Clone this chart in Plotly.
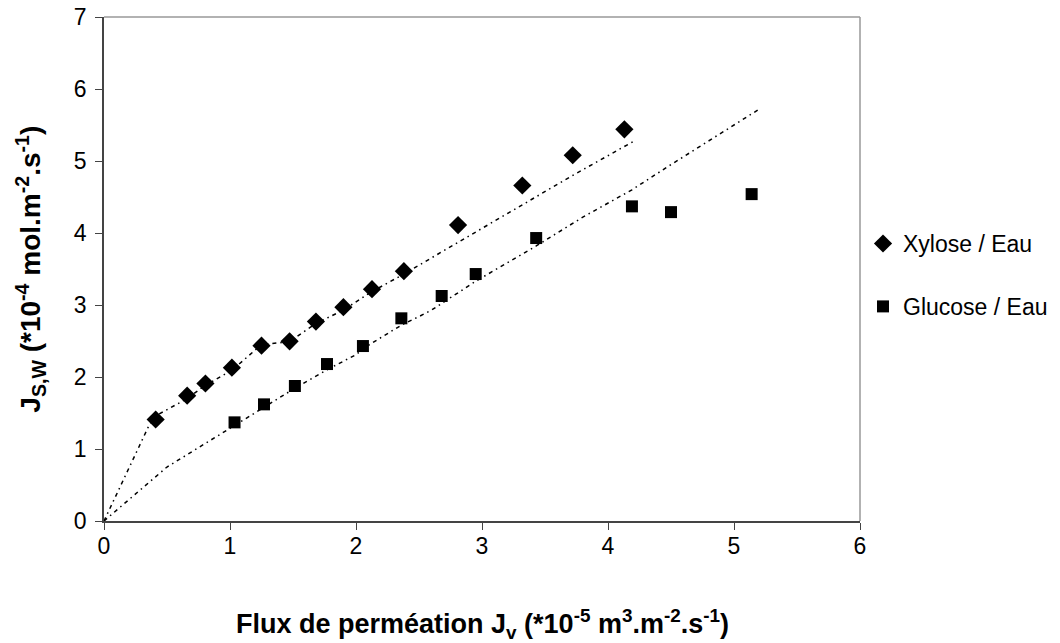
import plotly.graph_objects as go

# Data
xyl_x = [0.41, 0.66, 0.805, 1.015, 1.25, 1.473, 1.682, 1.90, 2.127, 2.38, 2.81, 3.32, 3.72, 4.13]
xyl_y = [1.41, 1.74, 1.91, 2.13, 2.435, 2.495, 2.77, 2.97, 3.22, 3.47, 4.11, 4.66, 5.08, 5.44]

glu_x = [1.036, 1.27, 1.515, 1.77, 2.055, 2.36, 2.68, 2.95, 3.43, 4.19, 4.50, 5.14]
glu_y = [1.37, 1.62, 1.875, 2.18, 2.43, 2.815, 3.125, 3.43, 3.93, 4.37, 4.29, 4.54]

xyl_fit_x = [0, 0.35, 0.40, 0.66, 0.80, 1.02, 1.25, 1.47, 1.68, 1.90, 2.12, 2.38, 2.80, 3.32, 3.72, 4.21]
xyl_fit_y = [0, 1.30, 1.45, 1.70, 1.88, 2.10, 2.45, 2.49, 2.74, 2.93, 3.18, 3.43, 3.86, 4.39, 4.80, 5.28]

glu_fit_x = [0, 0.50, 1.03, 1.27, 1.52, 1.77, 2.00, 2.06, 2.36, 2.50, 2.60, 2.95, 3.43, 3.80, 4.19, 4.50, 5.20]
glu_fit_y = [0, 0.75, 1.32, 1.58, 1.85, 2.10, 2.31, 2.40, 2.72, 2.84, 2.93, 3.33, 3.82, 4.22, 4.60, 4.95, 5.72]

x_ticks = [0, 1, 2, 3, 4, 5, 6]
y_ticks = [0, 1, 2, 3, 4, 5, 6, 7]

x_title = "<b>Flux de perméation J<sub>v</sub> (*10<sup>-5</sup> m<sup>3</sup>.m<sup>-2</sup>.s<sup>-1</sup>)</b>"
y_title = "<b>J<sub>S,W</sub> (*10<sup>-4</sup> mol.m<sup>-2</sup>.s<sup>-1</sup>)</b>"

font = "Liberation Sans, Arial, sans-serif"
dash = "4px,4px,1.5px,4px"

fig = go.Figure()
fig.add_trace(go.Scatter(x=xyl_fit_x, y=xyl_fit_y, mode="lines",
                         line=dict(color="black", width=1.5, dash=dash),
                         showlegend=False, hoverinfo="skip"))
fig.add_trace(go.Scatter(x=glu_fit_x, y=glu_fit_y, mode="lines",
                         line=dict(color="black", width=1.5, dash=dash),
                         showlegend=False, hoverinfo="skip"))
fig.add_trace(go.Scatter(x=xyl_x, y=xyl_y, mode="markers", name="Xylose / Eau",
                         legendgroup="a",
                         marker=dict(symbol="diamond", size=14, color="black")))
fig.add_trace(go.Scatter(x=glu_x, y=glu_y, mode="markers", name="Glucose / Eau",
                         legendgroup="b",
                         marker=dict(symbol="square", size=12, color="black")))

fig.update_layout(
    width=1060, height=643,
    margin=dict(l=104, r=200, t=17, b=122, autoexpand=False),
    paper_bgcolor="white", plot_bgcolor="white",
    font=dict(family=font, size=23, color="black"),
    legend=dict(x=1.004, xanchor="left", y=0.488, yanchor="middle",
                font=dict(size=23), tracegroupgap=30, itemwidth=30,
                bgcolor="rgba(0,0,0,0)"),
    xaxis=dict(range=[0, 6], tickvals=x_ticks, ticks="outside", ticklen=7,
               tickcolor="#444", showline=True, linecolor="#444", linewidth=1.5,
               showgrid=False, zeroline=False, tickfont=dict(size=23),
               ticklabelstandoff=-3, automargin=False),
    yaxis=dict(range=[0, 7], tickvals=y_ticks, ticks="outside", ticklen=7,
               tickcolor="#444", showline=True, linecolor="#444", linewidth=1.5,
               showgrid=False, zeroline=False, tickfont=dict(size=23),
               ticklabelstandoff=4, automargin=False),
    shapes=[
        dict(type="line", xref="paper", yref="paper", x0=0, x1=1, y0=1, y1=1,
             line=dict(color="#999", width=1.5)),
        dict(type="line", xref="paper", yref="paper", x0=1, x1=1, y0=0, y1=1,
             line=dict(color="#999", width=1.5)),
    ],
    annotations=[
        dict(text=x_title, xref="paper", yref="paper", x=0.5, y=-0.204,
             xanchor="center", yanchor="middle", showarrow=False,
             font=dict(size=27)),
        dict(text=y_title, xref="paper", yref="paper", x=-0.097, y=0.5,
             xanchor="center", yanchor="middle", showarrow=False,
             textangle=-90, font=dict(size=28)),
    ],
)

fig.write_html("out.html")
